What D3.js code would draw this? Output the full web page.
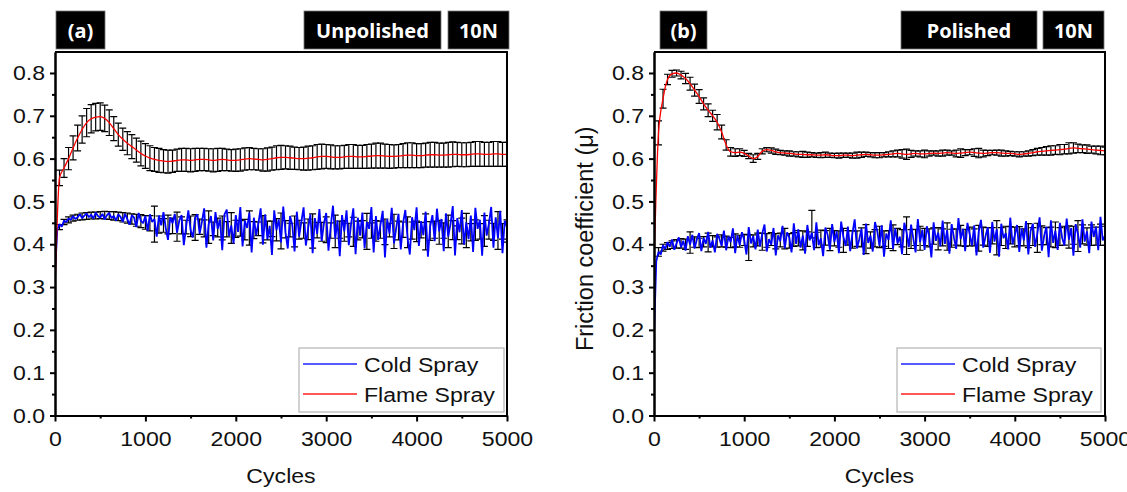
<!DOCTYPE html>
<html>
<head>
<meta charset="utf-8">
<script src="https://cdn.jsdelivr.net/npm/d3@7"></script>
<style>
  body { margin: 0; background: #fff; }
  svg { display: block; font-family: "Liberation Sans", Arial, sans-serif; }
</style>
</head>
<body>
<div id="wrapper"></div>
<script>
// 1. Data (friction values in thousandths of mu)
const xTicks = [0, 1000, 2000, 3000, 4000, 5000]
const xMinorTicks = [500, 1500, 2500, 3500, 4500]
const yTicks = [0, 0.1, 0.2, 0.3, 0.4, 0.5, 0.6, 0.7, 0.8]
const yMinorTicks = [0.05, 0.15, 0.25, 0.35, 0.45, 0.55, 0.65, 0.75]
const legendLabels = ["Cold Spray", "Flame Spray"]
const panelLabels = ["(a)", "(b)"]
const surfaceLabels = ["Unpolished", "Polished"]
const loadLabel = "10N"
const barStep = 50 // cycles between error bars
const rawStep = 25 // cycles between cold spray raw samples

const unpolishedFlameStart = 290
const unpolishedFlameMean = [
  555, 578, 600, 625, 648, 668, 684, 693, 697, 698,
  694, 684, 670, 656, 645, 636, 628, 620, 612, 606,
  601, 598, 596, 594, 593, 594, 596, 597, 597, 596,
  597, 598, 598, 597, 596, 597, 598, 597, 596, 596,
  597, 599, 600, 599, 598, 597, 598, 600, 602, 603,
  603, 602, 601, 600, 600, 601, 602, 604, 605, 605,
  604, 603, 603, 604, 605, 605, 604, 604, 605, 606,
  607, 607, 606, 605, 605, 606, 607, 608, 608, 607,
  607, 608, 609, 609, 608, 608, 609, 610, 610, 609,
  609, 610, 611, 611, 610, 610, 611, 611, 610, 610
]
const unpolishedFlameErr = [
  18, 22, 26, 28, 30, 32, 33, 33, 32, 32,
  31, 30, 28, 27, 26, 27, 28, 28, 29, 29,
  29, 28, 28, 27, 27, 26, 26, 27, 27, 27,
  27, 26, 26, 26, 27, 27, 26, 25, 25, 26,
  26, 26, 26, 25, 25, 26, 27, 27, 28, 28,
  27, 27, 26, 26, 27, 28, 28, 29, 29, 28,
  28, 27, 27, 27, 28, 28, 27, 27, 28, 28,
  29, 29, 28, 28, 27, 27, 28, 29, 29, 28,
  28, 28, 29, 29, 28, 28, 29, 29, 28, 28,
  28, 28, 29, 29, 28, 28, 29, 29, 28, 28
]
const unpolishedColdMean = [
  440, 452, 457, 461, 463, 465, 466, 467, 467, 468,
  468, 467, 466, 465, 463, 461, 459, 456, 454, 451,
  449, 447, 446, 444, 446, 443, 441, 444, 440, 442,
  439, 441, 437, 440, 436, 439, 438, 435, 438, 436,
  437, 434, 438, 433, 436, 435, 432, 436, 434, 431,
  435, 433, 430, 434, 432, 435, 431, 433, 429, 434,
  432, 430, 434, 431, 433, 429, 432, 435, 430, 432,
  431, 434, 429, 433, 430, 432, 434, 428, 432, 430,
  433, 429, 431, 434, 428, 432, 430, 433, 427, 431,
  432, 428, 433, 430, 431, 434, 429, 432, 430, 431
]
const unpolishedColdErr = [
  6, 6, 7, 7, 7, 8, 8, 8, 8, 8,
  9, 9, 10, 10, 11, 12, 12, 14, 15, 16,
  18, 42, 20, 16, 22, 18, 34, 20, 16, 24,
  30, 18, 20, 38, 16, 22, 28, 18, 36, 20,
  18, 24, 40, 20, 16, 32, 22, 18, 26, 42,
  20, 16, 36, 22, 18, 24, 40, 18, 22, 30,
  18, 38, 20, 24, 16, 34, 22, 20, 42, 18,
  24, 20, 30, 16, 40, 22, 18, 36, 20, 24,
  18, 42, 22, 20, 28, 18, 38, 22, 16, 30,
  40, 20, 24, 18, 36, 22, 20, 44, 18, 26
]
const unpolishedColdRaw = [
  330, 434, 447, 441, 455, 452, 460, 457,
  466, 459, 463, 470, 461, 467, 472, 463,
  469, 460, 474, 466, 462, 471, 458, 468,
  473, 461, 466, 455, 470, 464, 452, 471,
  459, 446, 468, 462, 440, 473, 455, 449,
  466, 431, 470, 452, 459, 418, 467, 444,
  475, 438, 410, 463, 449, 471, 427, 455,
  468, 398, 440, 479, 433, 416, 462, 470,
  425, 452, 484, 392, 447, 466, 409, 475,
  436, 458, 386, 470, 481, 419, 444, 402,
  468, 429, 487, 395, 455, 438, 474, 381,
  462, 421, 449, 484, 399, 470, 412, 443,
  375, 479, 433, 458, 404, 488, 427, 390,
  466, 445, 383, 476, 418, 452, 486, 397,
  437, 470, 379, 461, 424, 482, 408, 449,
  473, 385, 441, 490, 413, 456, 372, 468,
  430, 479, 398, 447, 484, 377, 462, 420,
  474, 391, 452, 436, 487, 381, 466, 410,
  445, 478, 369, 458, 425, 485, 402, 439,
  471, 388, 449, 480, 415, 376, 463, 433,
  486, 396, 454, 421, 476, 371, 442, 468,
  407, 483, 430, 459, 384, 472, 418, 447,
  489, 374, 461, 428, 480, 399, 451, 412,
  467, 382, 485, 436, 457, 373, 474, 420,
  448, 487, 392, 463, 414, 478, 379, 455, 440
]

const polishedFlameStart = 350
const polishedFlameMean = [
  660, 740, 785, 798, 800, 795, 787, 775, 760, 745,
  728, 713, 700, 685, 662, 632, 616, 614, 615, 612,
  606, 600, 605, 617, 621, 619, 616, 614, 613, 612,
  611, 610, 610, 609, 609, 608, 608, 609, 608, 607,
  607, 608, 608, 607, 608, 609, 610, 609, 608, 608,
  609, 610, 611, 612, 611, 610, 611, 612, 611, 611,
  612, 613, 612, 613, 614, 613, 612, 613, 614, 615,
  614, 613, 612, 613, 614, 614, 613, 612, 612, 611,
  610, 611, 612, 614, 616, 617, 618, 619, 620, 621,
  622, 624, 625, 624, 623, 622, 621, 620, 619, 618
]
const polishedFlameErr = [
  28, 22, 12, 8, 7, 9, 12, 15, 14, 16,
  14, 15, 13, 18, 16, 12, 10, 9, 8, 7,
  6, 9, 7, 6, 5, 6, 6, 5, 5, 6,
  5, 6, 7, 6, 5, 5, 6, 6, 5, 5,
  6, 5, 5, 6, 7, 6, 5, 5, 6, 6,
  5, 6, 7, 8, 10, 12, 8, 6, 7, 9,
  6, 5, 6, 7, 6, 5, 8, 10, 7, 6,
  9, 11, 8, 6, 5, 6, 7, 6, 5, 5,
  6, 5, 6, 7, 8, 9, 10, 11, 10, 12,
  11, 13, 12, 10, 9, 10, 8, 9, 10, 9
]
const polishedColdMean = [
  382, 392, 396, 399, 401, 402, 400, 404, 405, 403,
  406, 404, 407, 405, 408, 406, 404, 409, 407, 410,
  392, 408, 411, 406, 409, 412, 407, 410, 413, 408,
  411, 414, 409, 412, 447, 410, 413, 415, 411, 414,
  412, 409, 415, 411, 413, 416, 412, 410, 414, 417,
  413, 411, 415, 418, 414, 420, 412, 416, 414, 417,
  415, 419, 413, 416, 418, 414, 417, 420, 415, 418,
  416, 414, 419, 417, 420, 415, 418, 416, 421, 417,
  419, 416, 420, 418, 415, 421, 419, 417, 422, 418,
  420, 417, 421, 419, 423, 418, 421, 419, 422, 420
]
const polishedColdErr = [
  10, 8, 8, 9, 10, 11, 12, 25, 12, 11,
  12, 22, 13, 12, 14, 13, 12, 15, 14, 13,
  30, 14, 15, 20, 16, 15, 18, 16, 24, 17,
  16, 18, 22, 17, 32, 18, 20, 17, 26, 18,
  19, 28, 17, 20, 18, 22, 34, 19, 20, 25,
  18, 21, 30, 19, 20, 44, 22, 19, 28, 20,
  21, 19, 26, 20, 32, 21, 19, 24, 20, 22,
  20, 30, 21, 22, 19, 40, 21, 26, 20, 23,
  22, 20, 28, 21, 34, 22, 20, 23, 30, 21,
  22, 26, 21, 36, 22, 20, 24, 21, 25, 22
]
const polishedColdRaw = [
  185, 360, 382, 376, 398, 389, 405, 394,
  411, 387, 402, 416, 393, 408, 385, 419,
  399, 422, 390, 411, 426, 384, 415, 401,
  429, 392, 409, 381, 424, 413, 396, 432,
  386, 418, 405, 437, 379, 421, 398, 428,
  410, 376, 440, 402, 419, 388, 434, 395,
  425, 446, 383, 412, 399, 438, 374, 421,
  407, 443, 390, 428, 416, 381, 449, 401,
  435, 392, 420, 378, 445, 409, 427, 386,
  451, 398, 414, 372, 439, 422, 388, 447,
  405, 430, 379, 453, 417, 396, 441, 384,
  426, 458, 390, 411, 436, 375, 448, 403,
  420, 383, 452, 431, 396, 444, 371, 425,
  410, 456, 389, 437, 402, 418, 377, 450,
  428, 393, 446, 413, 381, 459, 405, 434,
  387, 442, 420, 369, 451, 408, 427, 395,
  455, 401, 433, 378, 447, 416, 389, 461,
  412, 436, 384, 450, 423, 397, 444, 374,
  429, 457, 392, 418, 440, 380, 452, 406,
  435, 371, 448, 414, 426, 388, 462, 400,
  421, 445, 382, 437, 409, 454, 376, 431,
  448, 394, 425, 463, 385, 419, 441, 370,
  456, 403, 432, 387, 450, 415, 397, 460,
  411, 438, 373, 447, 424, 392, 458, 406,
  430, 379, 453, 417, 441, 386, 464, 409, 420
]

// 2. Layout
const width = 1127
const height = 492
const plotTop = 52
const plotBottom = 415.5
const stretch = 1.1 // the figure text is slightly wide
const blue = "#0000ff"
const red = "#ff0000"

const panels = [
  {
    label: panelLabels[0], surface: surfaceLabels[0],
    x0: 55, x1: 507,
    labelBox: [56, 105], surfaceBox: [304, 441], loadBox: [448, 509],
    legendBox: [299, 348, 205, 64],
    flameStart: unpolishedFlameStart, flameMean: unpolishedFlameMean, flameErr: unpolishedFlameErr,
    coldMean: unpolishedColdMean, coldErr: unpolishedColdErr, coldRaw: unpolishedColdRaw,
    yTitle: false,
  },
  {
    label: panelLabels[1], surface: surfaceLabels[1],
    x0: 654, x1: 1105,
    labelBox: [660, 707], surfaceBox: [901, 1037], loadBox: [1043, 1104],
    legendBox: [897, 348, 204, 64],
    flameStart: polishedFlameStart, flameMean: polishedFlameMean, flameErr: polishedFlameErr,
    coldMean: polishedColdMean, coldErr: polishedColdErr, coldRaw: polishedColdRaw,
    yTitle: true,
  },
]

// 3. Draw Canvas
const svg = d3
  .select("#wrapper")
  .append("svg")
  .attr("width", width)
  .attr("height", height)

panels.forEach((p, pi) => drawPanel(p, pi))

function errorBarPath(xScale, yScale) {
  const capHalf = 3.5
  return d => {
    const x = xScale(d.c)
    const yT = yScale(d.m + d.e)
    const yB = yScale(d.m - d.e)
    return `M${x},${yT}V${yB}M${x - capHalf},${yT}H${x + capHalf}M${x - capHalf},${yB}H${x + capHalf}`
  }
}

function drawPanel(p, pi) {
  const xScale = d3.scaleLinear().domain([0, 5000]).range([p.x0, p.x1])
  const yScale = d3.scaleLinear().domain([0, 0.849]).range([plotBottom, plotTop])

  const g = svg.append("g")
  const clipId = "clip-" + pi
  g.append("clipPath")
    .attr("id", clipId)
    .append("rect")
    .attr("x", p.x0)
    .attr("y", plotTop)
    .attr("width", p.x1 - p.x0)
    .attr("height", plotBottom - plotTop)

  const data = g.append("g").attr("clip-path", `url(#${clipId})`)

  // cold spray error bars (under the raw trace)
  const coldBars = p.coldMean.map((v, i) => ({ c: (i + 1) * barStep, m: v / 1000, e: p.coldErr[i] / 1000 }))
  data.append("g")
    .attr("stroke", "#000")
    .attr("stroke-width", 1.2)
    .attr("fill", "none")
    .selectAll("path")
    .data(coldBars)
    .join("path")
    .attr("d", errorBarPath(xScale, yScale))

  // cold spray raw trace
  const rawPoints = p.coldRaw.map((v, i) => [i * rawStep, v / 1000])
  data.append("path")
    .datum(rawPoints)
    .attr("fill", "none")
    .attr("stroke", blue)
    .attr("stroke-width", 1.8)
    .attr("stroke-linejoin", "bevel")
    .attr("d", d3.line().x(d => xScale(d[0])).y(d => yScale(d[1])))

  // flame spray error bars
  const flameBars = p.flameMean.map((v, i) => ({ c: (i + 1) * barStep, m: v / 1000, e: p.flameErr[i] / 1000 }))
  data.append("g")
    .attr("stroke", "#000")
    .attr("stroke-width", 1.2)
    .attr("fill", "none")
    .selectAll("path")
    .data(flameBars)
    .join("path")
    .attr("d", errorBarPath(xScale, yScale))

  // flame spray mean line
  const flamePoints = [[0, p.flameStart / 1000]].concat(
    p.flameMean.map((v, i) => [(i + 1) * barStep, v / 1000])
  )
  data.append("path")
    .datum(flamePoints)
    .attr("fill", "none")
    .attr("stroke", red)
    .attr("stroke-width", 1.3)
    .attr("d", d3.line().curve(d3.curveMonotoneX).x(d => xScale(d[0])).y(d => yScale(d[1])))

  // frame (top and right)
  g.append("path")
    .attr("d", `M${p.x0},${plotTop}H${p.x1}V${plotBottom}`)
    .attr("fill", "none")
    .attr("stroke", "#000")
    .attr("stroke-width", 2)

  // axes
  const xAxis = g.append("g")
    .attr("transform", `translate(0,${plotBottom})`)
    .call(d3.axisBottom(xScale).tickValues(xTicks).tickFormat(d3.format("d")).tickSize(6).tickPadding(10).tickSizeOuter(0))
  const xMinor = g.append("g")
    .attr("transform", `translate(0,${plotBottom})`)
    .call(d3.axisBottom(xScale).tickValues(xMinorTicks).tickSize(3).tickFormat("").tickSizeOuter(0))
  const yAxis = g.append("g")
    .attr("transform", `translate(${p.x0},0)`)
    .call(d3.axisLeft(yScale).tickValues(yTicks).tickFormat(d3.format(".1f")).tickSize(5).tickPadding(4).tickSizeOuter(0))
  const yMinor = g.append("g")
    .attr("transform", `translate(${p.x0},0)`)
    .call(d3.axisLeft(yScale).tickValues(yMinorTicks).tickSize(3).tickFormat("").tickSizeOuter(0))

  ;[xAxis, yAxis, xMinor, yMinor].forEach(a => {
    a.select(".domain").attr("stroke-width", 2)
    a.selectAll(".tick line").attr("stroke-width", 2)
    a.selectAll(".tick text")
      .attr("font-family", "'Liberation Sans', Arial, sans-serif")
      .attr("font-size", 21)
      .attr("fill", "#111")
      .attr("transform", `scale(${stretch},1)`)
  })

  // axis titles
  g.append("text")
    .attr("transform", `translate(${(p.x0 + p.x1) / 2},483) scale(${stretch},1)`)
    .attr("text-anchor", "middle")
    .attr("font-size", 21)
    .attr("fill", "#111")
    .text("Cycles")
  if (p.yTitle) {
    g.append("text")
      .attr("transform", `translate(593,${(plotTop + plotBottom) / 2 + 5}) rotate(-90)`)
      .attr("text-anchor", "middle")
      .attr("font-size", 23.5)
      .attr("fill", "#111")
      .text("Friction coefficient (\u03bc)")
  }

  // legend
  const [lx, ly, lw, lh] = p.legendBox
  const legend = g.append("g")
  legend.append("rect")
    .attr("x", lx)
    .attr("y", ly)
    .attr("width", lw)
    .attr("height", lh)
    .attr("fill", "#fff")
    .attr("stroke", "#b5b5b5")
    .attr("stroke-width", 1.2)
  ;[blue, red].forEach((col, i) => {
    const yy = ly + 16 + i * 30
    legend.append("line")
      .attr("x1", lx + 4)
      .attr("x2", lx + 58)
      .attr("y1", yy)
      .attr("y2", yy)
      .attr("stroke", col)
      .attr("stroke-width", 2)
      .attr("opacity", 0.65)
    legend.append("text")
      .attr("transform", `translate(${lx + 65},${yy + 7.5}) scale(${stretch},1)`)
      .attr("font-size", 21)
      .attr("fill", "#111")
      .text(legendLabels[i])
  })

  // header tags
  const tags = [
    [p.labelBox, p.label],
    [p.surfaceBox, p.surface],
    [p.loadBox, loadLabel],
  ]
  tags.forEach(([[bx0, bx1], txt]) => {
    g.append("rect")
      .attr("x", bx0)
      .attr("y", 11)
      .attr("width", bx1 - bx0)
      .attr("height", 38)
      .attr("fill", "#000")
      .attr("stroke", "#777")
      .attr("stroke-width", 0.8)
    g.append("text")
      .attr("x", (bx0 + bx1) / 2)
      .attr("y", 37.5)
      .attr("text-anchor", "middle")
      .attr("font-family", "'Noto Sans', 'Open Sans', sans-serif")
      .attr("font-weight", "bold")
      .attr("font-size", 20)
      .attr("fill", "#fff")
      .text(txt)
  })
}
</script>
</body>
</html>
